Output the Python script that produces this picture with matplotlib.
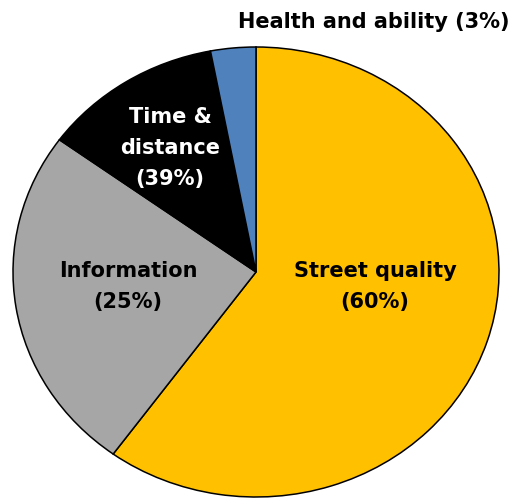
import matplotlib
matplotlib.use("Agg")
import matplotlib.pyplot as plt

# slice data (clockwise from 12 o'clock)
categories = ["Street quality", "Information", "Time &\ndistance", "Health and ability"]
shares = [60, 25, 12, 3]
shown_pct = ["60%", "25%", "39%", "3%"]
colors = ["#FFC000", "#A6A6A6", "#000000", "#4F81BD"]

# the original text is wide, DejaVu Sans Bold fits its width best
plt.rcParams["font.family"] = ["DejaVu Sans"]

W, H = 513, 501
fig = plt.figure(figsize=(W / 100, H / 100), dpi=100)
# pie is a slightly squashed ellipse in the original
ax = fig.add_axes([13 / W, (H - 497) / H, 486 / W, 450 / H])

ax.pie(shares, colors=colors, startangle=90, counterclock=False,
       wedgeprops=dict(edgecolor="black", linewidth=1.1))
ax.set_aspect("auto")
ax.set_xlim(-1, 1)
ax.set_ylim(-1, 1)

# label positions in data units
label_pos = [(0.49, -0.065), (-0.527, -0.065), (-0.354, 0.552), (0.486, 1.11)]
label_col = ["black", "black", "white", "black"]

for i, (name, pct) in enumerate(zip(categories, shown_pct)):
    x, y = label_pos[i]
    if i == 3:
        ax.text(x, y, f"{name} ({pct})", ha="center", va="center",
                fontsize=15, fontweight="bold", color=label_col[i], clip_on=False)
    else:
        ax.text(x, y, f"{name}\n({pct})", ha="center", va="center",
                fontsize=15, fontweight="bold", color=label_col[i],
                linespacing=1.68)

fig.savefig("out.png", dpi=100)
